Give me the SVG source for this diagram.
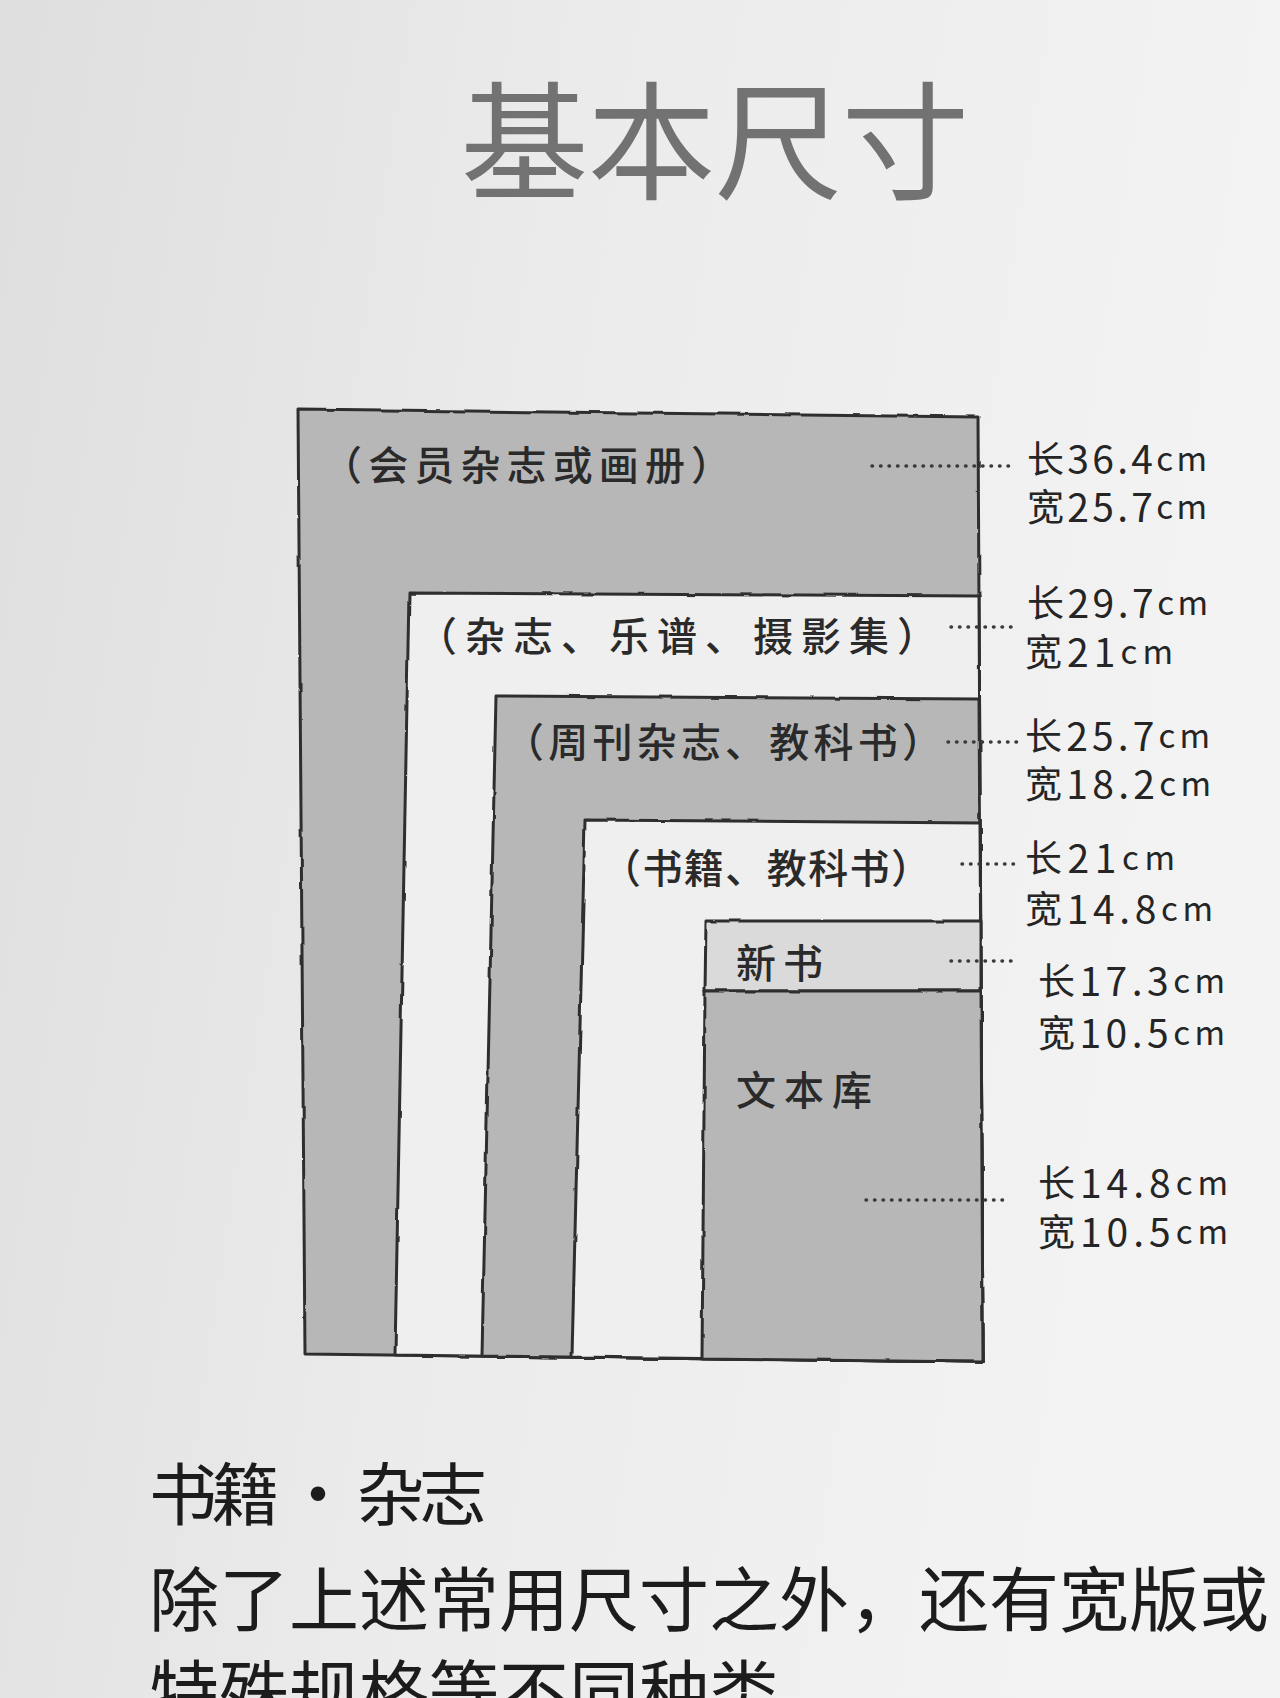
<svg xmlns="http://www.w3.org/2000/svg" width="1280" height="1698" viewBox="0 0 1280 1698">
  <defs>
    <linearGradient id="paper" x1="0" y1="0" x2="1" y2="0.2">
      <stop offset="0" stop-color="#dedede"/>
      <stop offset="0.45" stop-color="#ebebeb"/>
      <stop offset="1" stop-color="#f3f3f3"/>
    </linearGradient>
    <filter id="rough" x="-5%" y="-5%" width="110%" height="110%">
      <feTurbulence type="fractalNoise" baseFrequency="0.04" numOctaves="2" seed="3" result="n"/>
      <feDisplacementMap in="SourceGraphic" in2="n" scale="3" xChannelSelector="R" yChannelSelector="G"/>
    </filter>
    <style>
      .box { stroke: #2e2e2e; stroke-width: 3; stroke-linejoin: round; }
      .gray { fill: #b7b7b7; }
      .white { fill: #efefef; }
      .light { fill: #dadada; }
      .lbl { font-family: "Noto Sans CJK SC", "Noto Sans", sans-serif; font-size: 40px; font-weight: 500; fill: #2a2a2a; dominant-baseline: central; }
      .dim { font-family: "Noto Sans CJK SC", "Noto Sans", sans-serif; font-size: 39px; fill: #252525; dominant-baseline: central; }
      .dim .cm { font-size: 33px; }
      .dim .zh { font-size: 37px; }
      .lead { fill: none; stroke: #3a3a3a; stroke-width: 3.5; stroke-linecap: round; stroke-dasharray: 0.5 8; }
      .body { font-family: "Noto Sans CJK SC", "Noto Sans", sans-serif; fill: #1c1c1c; dominant-baseline: central; }
    </style>
  </defs>

  <rect x="0" y="0" width="1280" height="1698" fill="url(#paper)"/>

  <g id="title">
    <text x="715" y="134" text-anchor="middle" dominant-baseline="central" font-family="'Noto Sans CJK SC', 'Noto Sans', sans-serif" font-size="128" fill="#727272" textLength="509" lengthAdjust="spacing">基本尺寸</text>
  </g>

  <g id="rect-member" filter="url(#rough)">
    <polygon class="box gray" points="298,409 978,417 983,1362 305,1354"/>
  </g>
  <g id="rect-magazine" filter="url(#rough)">
    <polygon class="box white" points="409,593 979,596 983,1362 395,1355"/>
  </g>
  <g id="rect-weekly" filter="url(#rough)">
    <polygon class="box gray" points="496,696 979,699 983,1362 482,1356"/>
  </g>
  <g id="rect-book" filter="url(#rough)">
    <polygon class="box white" points="585,820 980,823 983,1362 572,1357"/>
  </g>
  <g id="rect-shinsho" filter="url(#rough)">
    <polygon class="box light" points="706,921 981,921 981,991 705,991"/>
  </g>
  <g id="rect-bunko" filter="url(#rough)">
    <polygon class="box gray" points="705,991 981,991 983,1362 702,1359"/>
  </g>

  <g id="labels">
    <text class="lbl" x="322" y="463" textLength="409" lengthAdjust="spacing">（会员杂志或画册）</text>
    <text class="lbl" x="417" y="634" textLength="520" lengthAdjust="spacing">（杂志、乐谱、摄影集）</text>
    <text class="lbl" x="504" y="740" textLength="438" lengthAdjust="spacing">（周刊杂志、教科书）</text>
    <text class="lbl" x="601" y="866" textLength="330" lengthAdjust="spacing">（书籍、教科书）</text>
    <text class="lbl" x="736" y="961" textLength="87" lengthAdjust="spacing">新书</text>
    <text class="lbl" x="736" y="1088" textLength="136" lengthAdjust="spacing">文本库</text>
  </g>

  <g id="connectors">
    <line class="lead" x1="872" y1="466" x2="1012" y2="466"/>
    <line class="lead" x1="951" y1="627" x2="1018" y2="627"/>
    <line class="lead" x1="948" y1="742" x2="1020" y2="742"/>
    <line class="lead" x1="962" y1="864" x2="1016" y2="864"/>
    <line class="lead" x1="951" y1="961" x2="1018" y2="961"/>
    <line class="lead" x1="866" y1="1200" x2="1010" y2="1200"/>
  </g>

  <g id="dims">
    <text class="dim" x="1027" y="457" textLength="180" lengthAdjust="spacing"><tspan class="zh">长</tspan>36.4<tspan class="cm">cm</tspan></text>
    <text class="dim" x="1027" y="505" textLength="180" lengthAdjust="spacing"><tspan class="zh">宽</tspan>25.7<tspan class="cm">cm</tspan></text>
    <text class="dim" x="1027" y="601" textLength="181" lengthAdjust="spacing"><tspan class="zh">长</tspan>29.7<tspan class="cm">cm</tspan></text>
    <text class="dim" x="1025" y="650" textLength="148" lengthAdjust="spacing"><tspan class="zh">宽</tspan>21<tspan class="cm">cm</tspan></text>
    <text class="dim" x="1025" y="734" textLength="185" lengthAdjust="spacing"><tspan class="zh">长</tspan>25.7<tspan class="cm">cm</tspan></text>
    <text class="dim" x="1025" y="782" textLength="186" lengthAdjust="spacing"><tspan class="zh">宽</tspan>18.2<tspan class="cm">cm</tspan></text>
    <text class="dim" x="1025" y="856" textLength="150" lengthAdjust="spacing"><tspan class="zh">长</tspan>21<tspan class="cm">cm</tspan></text>
    <text class="dim" x="1025" y="907" textLength="188" lengthAdjust="spacing"><tspan class="zh">宽</tspan>14.8<tspan class="cm">cm</tspan></text>
    <text class="dim" x="1038" y="979" textLength="187" lengthAdjust="spacing"><tspan class="zh">长</tspan>17.3<tspan class="cm">cm</tspan></text>
    <text class="dim" x="1038" y="1031" textLength="187" lengthAdjust="spacing"><tspan class="zh">宽</tspan>10.5<tspan class="cm">cm</tspan></text>
    <text class="dim" x="1038" y="1181" textLength="190" lengthAdjust="spacing"><tspan class="zh">长</tspan>14.8<tspan class="cm">cm</tspan></text>
    <text class="dim" x="1038" y="1230" textLength="190" lengthAdjust="spacing"><tspan class="zh">宽</tspan>10.5<tspan class="cm">cm</tspan></text>
  </g>

  <g id="caption">
    <text class="body" x="149" y="1490" font-size="68" textLength="338" lengthAdjust="spacing">书籍 · 杂志</text>
    <text class="body" x="149" y="1595" font-size="70" textLength="1120" lengthAdjust="spacing">除了上述常用尺寸之外，还有宽版或</text>
    <text class="body" x="149" y="1688" font-size="70" textLength="630" lengthAdjust="spacing">特殊规格等不同种类</text>
  </g>
</svg>
